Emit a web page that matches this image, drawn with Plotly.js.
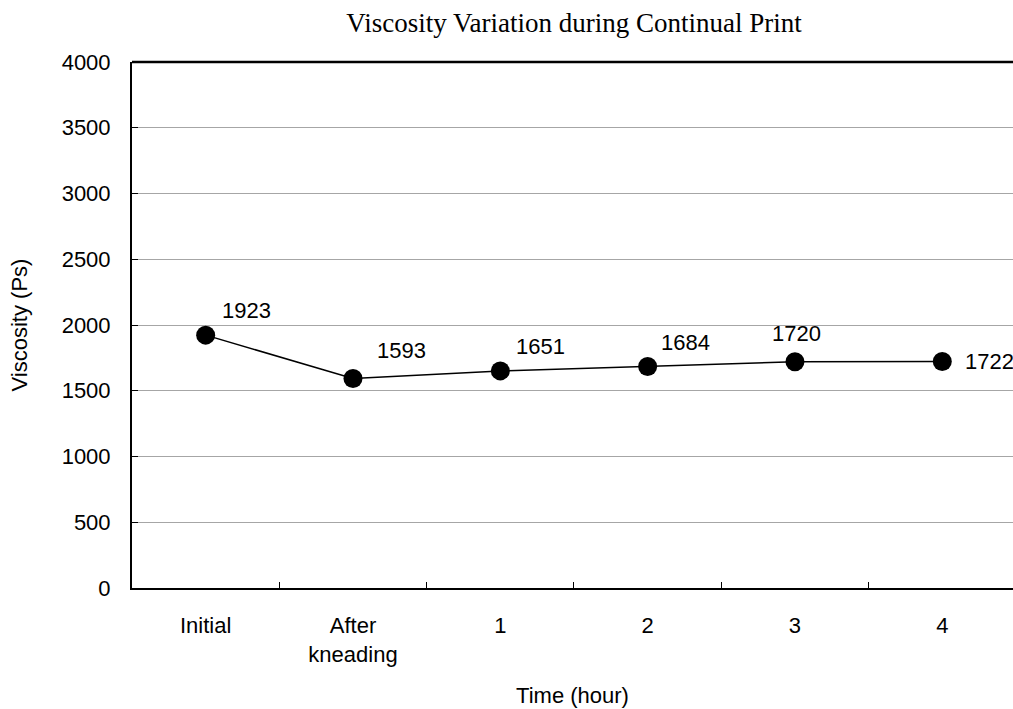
<!DOCTYPE html>
<html>
<head>
<meta charset="utf-8">
<script src="https://cdn.plot.ly/plotly-3.0.1.min.js"></script>
<style>html,body{margin:0;padding:0;background:#fff;}</style>
</head>
<body>
<div id="chart" style="width:1013px;height:709px;"></div>
<script>
const categories = ["Initial", "After<br>kneading", "1", "2", "3", "4"];
const viscosity = [1923, 1593, 1651, 1684, 1720, 1722];
const yTicks = [0, 500, 1000, 1500, 2000, 2500, 3000, 3500, 4000];

const labelOffsets = [[41, 25], [49, 28], [40, 24], [38, 24], [2, 28], [47, 0]];
const FONT = 'Liberation Sans, Arial, sans-serif';

const annotations = viscosity.map((v, i) => ({
  x: i, y: v, xref: 'x', yref: 'y',
  text: String(v), showarrow: false,
  xshift: labelOffsets[i][0], yshift: labelOffsets[i][1],
  font: {family: FONT, size: 22, color: '#000'}
}));

const trace = {
  x: categories, y: viscosity, type: 'scatter', mode: 'lines+markers',
  line: {color: '#000', width: 1.5},
  marker: {color: '#000', size: 19},
  cliponaxis: false, hoverinfo: 'skip'
};

const layout = {
  width: 1013, height: 709,
  margin: {l: 132, r: 0, t: 62, b: 121},
  paper_bgcolor: '#fff', plot_bgcolor: '#fff',
  showlegend: false,
  title: {text: 'Viscosity Variation during Continual Print',
          font: {family: 'Liberation Serif, Times New Roman, serif', size: 27, color: '#000'},
          x: 574 / 1013, xref: 'container', xanchor: 'center',
          y: 1 - 23 / 709, yref: 'container', yanchor: 'middle'},
  xaxis: {
    type: 'category', range: [-0.5, 5.48],
    showline: true, linecolor: '#000', linewidth: 2,
    showgrid: false, zeroline: false,
    ticks: 'inside', tickson: 'boundaries', ticklen: 6, tickcolor: '#000', tickwidth: 1,
    tickfont: {family: FONT, size: 22, color: '#000'},
    ticklabelstandoff: 17,
    title: {text: 'Time (hour)', font: {family: FONT, size: 22, color: '#000'}, standoff: 22}
  },
  yaxis: {
    range: [0, 4000], tickvals: yTicks, ticktext: yTicks.map(String),
    showline: true, linecolor: '#000', linewidth: 2,
    showgrid: true, gridcolor: '#a6a6a6', gridwidth: 1, zeroline: false,
    ticks: 'inside', ticklen: 6, tickcolor: '#000', tickwidth: 1,
    tickfont: {family: FONT, size: 22, color: '#000'},
    ticklabelstandoff: 15,
    title: {text: 'Viscosity (Ps)', font: {family: FONT, size: 22, color: '#000'}, standoff: 28}
  },
  shapes: [{type: 'line', xref: 'paper', yref: 'paper', x0: 0, x1: 1, y0: 1, y1: 1,
            line: {color: '#000', width: 2.5}}],
  annotations: annotations
};

Plotly.newPlot('chart', [trace], layout, {displayModeBar: false, staticPlot: true});
</script>
</body>
</html>
